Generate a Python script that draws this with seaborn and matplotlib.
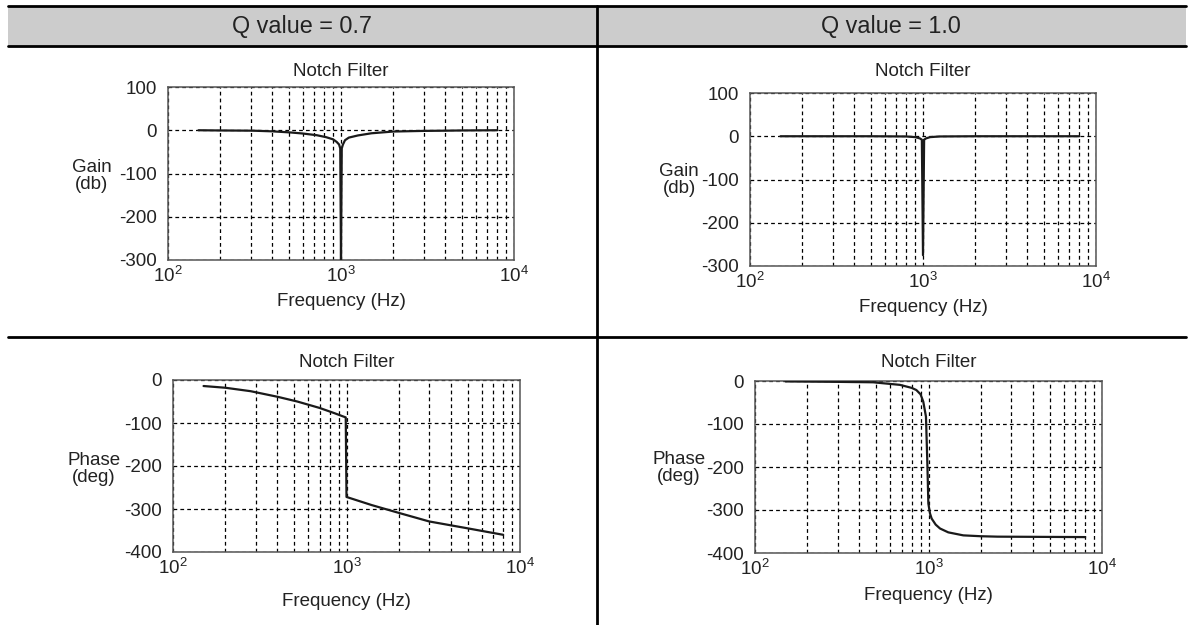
"""
Notch filter Bode plots, Q = 0.7 vs Q = 1.0, laid out as a 2x2 table
"""
import numpy as np
import pandas as pd
import matplotlib
matplotlib.use("Agg")
import matplotlib.pyplot as plt
from matplotlib.lines import Line2D
from matplotlib.patches import Rectangle
from matplotlib.ticker import LogLocator, NullFormatter
import seaborn as sns

# data
q_labels = ["Q value = 0.7", "Q value = 1.0"]

gain_q07_freq = [150, 200, 310, 400, 507, 600, 725, 820, 900, 944, 975, 990, 1000,
                 1010, 1026, 1055, 1110, 1253, 1500, 2000, 3000, 4000, 5000, 8000]
gain_q07_db = [0, -0.5, -1, -2.5, -5, -7.5, -11.5, -16, -21, -27, -33, -42, -300,
               -42, -33, -23, -17, -12, -7, -3, -1.5, -1, -0.5, 0]

gain_q10_freq = [150, 500, 800, 900, 960, 985, 1000, 1015, 1040, 1100, 1250, 2000, 8000]
gain_q10_db = [0, 0, -0.5, -2, -5, -8, -275, -8, -5, -2, -0.5, 0, 0]

phase_q07_freq = [150, 200, 280, 400, 520, 700, 850, 990, 1000, 1400, 2000, 3000, 5000, 8000]
phase_q07_deg = [-14, -18, -26, -39, -50, -65, -77, -87, -272, -291, -309, -329, -345, -360]

phase_q10_freq = [150, 300, 480, 685, 800, 851, 900, 933, 967, 985, 998, 1020, 1043,
                  1100, 1165, 1300, 1587, 2000, 2500, 8000]
phase_q10_deg = [-1, -2, -3, -9, -16, -21, -31, -48, -83, -192, -285, -308, -320,
                 -334, -343, -352, -359, -361, -362, -363]

gain_ticks = [100, 0, -100, -200, -300]
phase_ticks = [0, -100, -200, -300, -400]

W, H = 1190, 625

sns.set_style("white")
plt.rcParams["font.family"] = ["Liberation Sans", "DejaVu Sans"]
plt.rcParams["axes.unicode_minus"] = False
plt.rcParams["mathtext.default"] = "regular"

fig = plt.figure(figsize=(W / 100, H / 100), dpi=100)
TXT = "#222222"


def fx(px):
    return px / W


def fy(py):
    return 1 - py / H


# table frame: header, dividers
fig.add_artist(Rectangle((fx(8), fy(46)), fx(1178), 40 / H, transform=fig.transFigure,
                         facecolor="#cccccc", edgecolor="none", zorder=0))
for xs, ys in [([8, 1186], [6, 6]), ([8, 1186], [46, 46]), ([8, 1186], [337, 337]),
               ([596.5, 596.5], [6, 625])]:
    fig.add_artist(Line2D([fx(v) for v in xs], [fy(v) for v in ys], transform=fig.transFigure,
                          color="black", lw=2.0, zorder=1))
fig.text(fx(302), fy(26), q_labels[0], ha="center", va="center", fontsize=16.8, color=TXT)
fig.text(fx(891), fy(26), q_labels[1], ha="center", va="center", fontsize=16.8, color=TXT)

# panel layout in pixels: left, top, right, bottom, title y, xlabel y, ylabel x, ylabel y
panels = [
    dict(box=(168, 87, 514, 260), ty=71, xly=301, ylx=92, yly=176,
         f=gain_q07_freq, v=gain_q07_db, ylim=(-300, 100), ticks=gain_ticks, ylab="Gain\n(db)"),
    dict(box=(750, 93, 1096, 266), ty=71, xly=307, ylx=679, yly=180,
         f=gain_q10_freq, v=gain_q10_db, ylim=(-300, 100), ticks=gain_ticks, ylab="Gain\n(db)"),
    dict(box=(173, 380, 520, 552), ty=362, xly=602, ylx=94, yly=469,
         f=phase_q07_freq, v=phase_q07_deg, ylim=(-400, 0), ticks=phase_ticks, ylab="Phase\n(deg)"),
    dict(box=(755, 381, 1102, 553), ty=362, xly=596, ylx=679, yly=468,
         f=phase_q10_freq, v=phase_q10_deg, ylim=(-400, 0), ticks=phase_ticks, ylab="Phase\n(deg)"),
]

grid_kw = dict(color="black", linestyle=(0, (3, 2.5)), linewidth=0.9)

for p in panels:
    l, t, r, b = p["box"]
    ax = fig.add_axes([fx(l), fy(b), (r - l) / W, (b - t) / H])
    df = pd.DataFrame({"freq": p["f"], "val": p["v"]})
    sns.lineplot(data=df, x="freq", y="val", ax=ax, color="#1a1a1a", linewidth=1.6,
                 estimator=None, sort=False, zorder=3)
    ax.set_xscale("log")
    ax.set_xlim(100, 1e4)
    ax.set_ylim(*p["ylim"])
    ax.set_yticks(p["ticks"])
    ax.xaxis.set_major_locator(LogLocator(base=10))
    ax.xaxis.set_minor_locator(LogLocator(base=10, subs=np.arange(2, 10)))
    ax.xaxis.set_minor_formatter(NullFormatter())
    ax.grid(which="major", axis="both", **grid_kw)
    ax.grid(which="minor", axis="x", **grid_kw)
    ax.tick_params(which="both", length=0, labelsize=13.5, labelcolor=TXT)
    ax.tick_params(axis="y", pad=8)
    ax.tick_params(axis="x", pad=4)
    ax.set_xlabel("")
    ax.set_ylabel("")
    for s in ax.spines.values():
        s.set_color("#555555")
        s.set_linewidth(1.1)
    cx = (l + r) / 2
    fig.text(fx(cx), fy(p["ty"]), "Notch Filter", ha="center", va="center", fontsize=13.5, color=TXT)
    fig.text(fx(cx), fy(p["xly"]), "Frequency (Hz)", ha="center", va="center", fontsize=13.5, color=TXT)
    fig.text(fx(p["ylx"]), fy(p["yly"]), p["ylab"], ha="center", va="center", fontsize=13.5,
             color=TXT, linespacing=0.95)

fig.savefig("out.png", dpi=100)
